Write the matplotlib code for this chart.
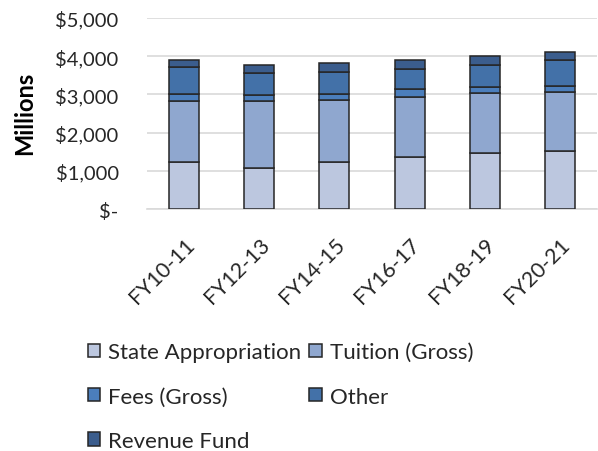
import matplotlib.pyplot as plt
import matplotlib.transforms as mtransforms
import numpy as np

years = ["FY10-11", "FY12-13", "FY14-15", "FY16-17", "FY18-19", "FY20-21"]
state = [1222, 1082, 1222, 1353, 1457, 1518]
tuition = [1596, 1745, 1640, 1579, 1571, 1536]
fees = [201, 166, 157, 201, 166, 175]
other = [690, 558, 559, 541, 584, 672]
revenue = [200, 227, 235, 235, 227, 209]

names = ["State Appropriation", "Tuition (Gross)", "Fees (Gross)", "Other", "Revenue Fund"]
colors = ["#BCC7DF", "#8FA7CF", "#4B7EBC", "#4371A8", "#3B5D8D"]
series = [state, tuition, fees, other, revenue]

plt.rcParams['font.family'] = ['Lato', 'DejaVu Sans']

fig = plt.figure(figsize=(5.98, 4.52), dpi=100)
ax = fig.add_axes([0.245, 0.535, 0.754, 0.423])

x = np.arange(len(years))
bottom = np.zeros(len(years))
handles = []
for name, vals, c in zip(names, series, colors):
    b = ax.bar(x, vals, 0.4, bottom=bottom, color=c, edgecolor="#262626",
               linewidth=1.1, label=name, zorder=3)
    handles.append(b)
    bottom += np.array(vals)

ax.set_xlim(-0.5, len(years) - 0.5)
ax.set_ylim(0, 5000)
ax.set_yticks(range(0, 5001, 1000))
ax.set_yticklabels(["$-"] + ["${:,}".format(v) for v in range(1000, 5001, 1000)],
                   fontsize=14.5, color="#262626")
# accounting style: the dash sits left of the number column
lbl0 = ax.get_yticklabels()[0]
lbl0.set_transform(lbl0.get_transform() +
                   mtransforms.ScaledTranslation(-0.15, 0, fig.dpi_scale_trans))
ax.yaxis.grid(True, color="#D9D9D9", linewidth=1.2, zorder=0)
ax.tick_params(axis="y", length=0, pad=20)
ax.tick_params(axis="x", length=0, pad=18)
ax.set_xticks(x)
ax.set_xticklabels(years, rotation=45, ha="right", rotation_mode="anchor",
                   fontsize=15.5, color="#262626")
for s in ["top", "right", "left"]:
    ax.spines[s].set_visible(False)
ax.spines["bottom"].set_color("#D9D9D9")
ax.spines["bottom"].set_linewidth(1.2)

fig.text(0.042, 0.75, "Millions", rotation=90, fontsize=17, fontweight="bold",
         ha="center", va="center", color="#000000")

# row-major order for a 2-column legend
order = [0, 2, 4, 1, 3]
fig.legend([handles[i] for i in order], [names[i] for i in order],
           loc="upper left", bbox_to_anchor=(88 / 598, 0.241), ncol=2, frameon=False,
           fontsize=16, handlelength=0.55, handleheight=0.55, handletextpad=0.36,
           columnspacing=0.36, labelspacing=1.1, borderpad=0, borderaxespad=0,
           labelcolor="#262626")

fig.savefig("out.png", dpi=100)
